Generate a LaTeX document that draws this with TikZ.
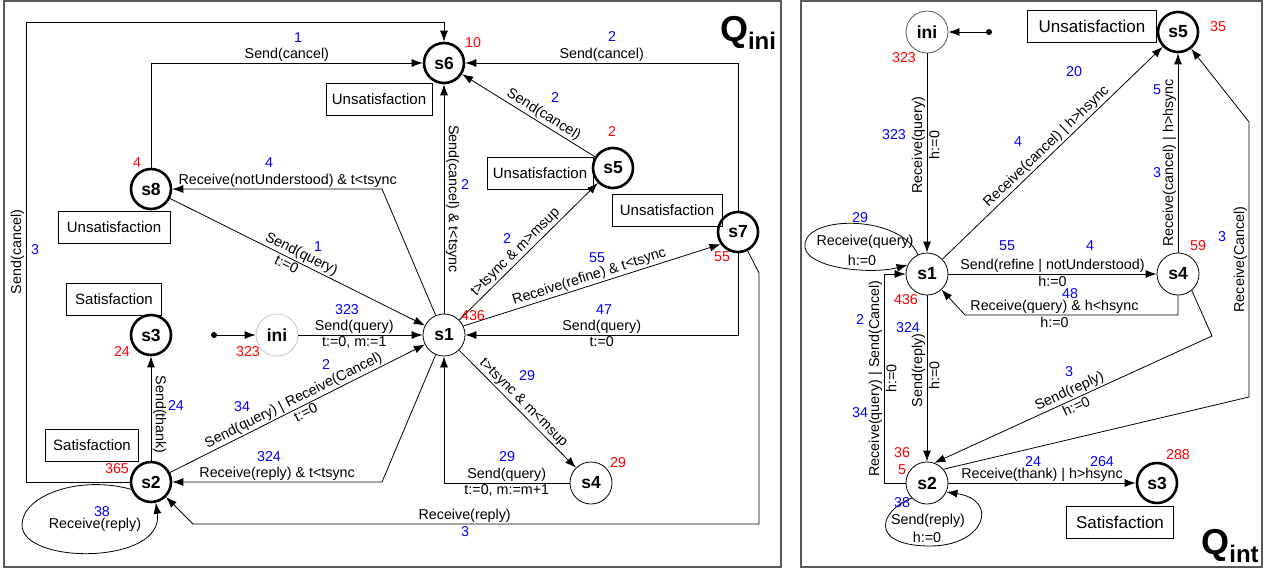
\documentclass[tikz,border=0pt]{standalone}
\usepackage{fontspec}
\setmainfont{Liberation Sans}
\usetikzlibrary{arrows.meta}
\tikzset{
    stnode/.style = {circle, draw=black, line width=0.8pt, minimum size=42pt, inner sep=0pt, font=\fontsize{17.5}{18}\selectfont\bfseries},
    stnodef/.style = {stnode, line width=2.6pt, minimum size=40pt},
    stnodeg/.style = {stnode, draw=gray!45},
    dotnode/.style = {circle, fill=black, minimum size=6pt, inner sep=0pt},
    msgbox/.style = {rectangle, draw=black, line width=0.8pt, minimum height=32pt, minimum width=106pt, inner sep=3pt, font=\fontsize{15}{16}\selectfont},
    msgboxb/.style = {msgbox, font=\fontsize{17}{18}\selectfont},
    cntb/.style = {text=blue, inner sep=0pt, font=\fontsize{14.3}{15}\selectfont},
    cntr/.style = {cntb, text=red},
    lbl/.style = {inner sep=1.5pt, font=\fontsize{14.3}{15}\selectfont},
    edgen/.style = {-{Latex[length=11pt,width=8pt]}, line width=0.8pt},
    frame/.style = {draw=gray!70!black, line width=1.6pt},
    qlabel/.style = {font=\fontsize{36}{36}\selectfont\bfseries, inner sep=0pt}
}
\begin{document}
\begin{tikzpicture}[x=1pt,y=-1pt]
\useasboundingbox (0,0) rectangle (1271,570);
%
\draw[frame] (4,1) rectangle (781,567);
\draw[frame] (801,1) rectangle (1262,567);
\node[qlabel] (qini) at (748,33) {Q\raisebox{-8pt}{\fontsize{24}{24}\selectfont ini}};
\node[qlabel] (qint) at (1230,546) {Q\raisebox{-8pt}{\fontsize{24}{24}\selectfont int}};
%
% Q_ini
\node[stnodef] (s6) at (444,63) {s6};
\node[stnodef] (s8) at (151,189) {s8};
\node[stnodef] (s5) at (613,168) {s5};
\node[stnodef] (s7) at (738,232) {s7};
\node[stnodef] (s3) at (151,335) {s3};
\node[stnodeg] (ini) at (277,335) {ini};
\node[stnode] (s1) at (444,335) {s1};
\node[stnodef] (s2) at (151,482) {s2};
\node[stnode] (s4) at (591,483) {s4};
\node[dotnode] (d0) at (214,335) {};
%
\node[msgbox] (u6) at (379,99) {Unsatisfaction};
\node[msgbox] (u5) at (540,173) {Unsatisfaction};
\node[msgbox, minimum width=110pt] (u7) at (667,210) {Unsatisfaction};
\node[msgbox, minimum width=112pt] (u8) at (114,227) {Unsatisfaction};
\node[msgbox, minimum width=95pt] (sa3) at (114,299) {Satisfaction};
\node[msgbox, minimum width=93pt] (sa2) at (92,445) {Satisfaction};
%
\coordinate (k0) at (26,22);
\coordinate (k1) at (382,189);
\coordinate (k2) at (382,482);
\coordinate (k3) at (759,273);
\coordinate (k4) at (759,524);
\coordinate (k5) at (193,524);
%
\draw[edgen] (s8) |- node[lbl, pos=0.75, above] {Send(cancel)} (s6);
\draw[edgen] (s2) -| node[lbl, pos=0.75, rotate=90, anchor=south] {Send(cancel)} (k0) -| (s6);
\draw[edgen] (s7) |- node[lbl, pos=0.75, above] {Send(cancel)} (s6);
\draw[edgen] (s5) -- node[lbl, pos=0.42, sloped, above] {Send(cancel)} (s6);
\draw[edgen] (s1) -- node[lbl, midway, rotate=-90, anchor=south] {Send(cancel) \& t<tsync} (s6);
\draw[edgen] (s1) -- (k1) -- node[lbl, pos=0.45, above] {Receive(notUnderstood) \& t<tsync} (s8);
\draw[edgen] (s8) -- node[lbl, pos=0.5, sloped, above] {Send(query)} node[lbl, pos=0.47, sloped, below] {t:=0} (s1);
\draw[edgen] (d0) -- (ini);
\draw[edgen] (ini) -- node[lbl, pos=0.45, above] {Send(query)} node[lbl, pos=0.45, below] {t:=0, m:=1} (s1);
\draw[edgen] (s2) -- node[lbl, midway, sloped, above] {Send(query) | Receive(Cancel)} node[lbl, pos=0.52, sloped, below] {t:=0} (s1);
\draw[edgen] (s1) -- (k2) -- node[lbl, midway, above] {Receive(reply) \& t<tsync} (s2);
\draw[edgen] (s2) -- node[lbl, pos=0.44, rotate=-90, anchor=south] {Send(thank)} (s3);
\draw[edgen] (s2.200) .. controls (80,475) and (22,495) .. (22,525) .. controls (22,565) and (165,565) .. (s2.283);
\node[lbl] (l1) at (95,525) {Receive(reply)};
\draw[edgen] (s1) -- node[lbl, pos=0.45, sloped, above] {t>tsync \& m>msup} (s5);
\draw[edgen] (s1.25) -- node[lbl, pos=0.5, sloped, above] {Receive(refine) \& t<tsync} (s7.215);
\draw[edgen] (s7) |- node[lbl, pos=0.75, above] {Send(query)} node[lbl, pos=0.75, below] {t:=0} (s1);
\draw[edgen] (s7) -- (k3) -- (k4) -- node[lbl, pos=0.52, above] {Receive(reply)} (k5) -- (s2);
\draw[edgen] (s1) -- node[lbl, pos=0.5, sloped, above] {t>tsync \& m<msup} (s4);
\draw[edgen] (s4) -| node[lbl, pos=0.25, above] {Send(query)} node[lbl, pos=0.25, below] {t:=0, m:=m+1} (s1);
%
\foreach \x/\y/\t [count=\i] in {298/38/1, 612/37/2, 35/250/3, 555/98/2, 465/185/2, 269/163/4, 318/247/1,
    347/310/323, 242/407/34, 326/365/2, 269/457/324, 176/406/24, 102/512/38, 507/239/2, 597/258/55,
    604/310/47, 465/532/3, 527/376/29, 507/457/29}
  \node[cntb] (b\i) at (\x,\y) {\t};
\foreach \x/\y/\t [count=\i] in {473/43/10, 612/132/2, 722/257/55, 137/163/4, 122/352/24, 248/352/323,
    473/316/436, 117/469/365, 618/463/29}
  \node[cntr] (r\i) at (\x,\y) {\t};
%
% Q_int
\node[stnode, draw=gray!70!black] (tini) at (927,32) {ini};
\node[dotnode] (td0) at (989,32) {};
\node[stnodef] (ts5) at (1178,32) {s5};
\node[stnode] (ts1) at (927,274) {s1};
\node[stnode] (ts4) at (1178,274) {s4};
\node[stnode] (ts2) at (927,483) {s2};
\node[stnodef] (ts3) at (1157,483) {s3};
\node[msgboxb, minimum width=129pt] (tu5) at (1092,26) {Unsatisfaction};
\node[msgboxb, minimum width=107pt] (tsa3) at (1120,522) {Satisfaction};
%
\coordinate (m1) at (884,274);
\coordinate (m2) at (1249,397);
\coordinate (m3) at (1249,122);
\coordinate (m4) at (965,315);
\coordinate (m5) at (1212,336);
%
\draw[edgen] (td0) -- (tini);
\draw[edgen] (tini) -- node[lbl, pos=0.46, rotate=90, anchor=south] {Receive(query)} node[lbl, pos=0.46, rotate=90, anchor=north] {h:=0} (ts1);
\draw[edgen] (ts1.115) .. controls (900,215) and (810,215) .. (805,243) .. controls (800,268) and (870,275) .. (ts1.155);
\node[lbl] (l2) at (865,242) {Receive(query)};
\node[lbl] (l3) at (862,260) {h:=0};
\draw[edgen] (ts2) -| node[lbl, pos=0.75, rotate=90, anchor=south] {Receive(query) | Send(Cancel)} node[lbl, pos=0.75, rotate=90, anchor=north] {h:=0} (m1) -- (ts1);
\draw[edgen] (ts1) -- node[lbl, pos=0.45, rotate=90, anchor=south] {Send(reply)} node[lbl, pos=0.48, rotate=90, anchor=north] {h:=0} (ts2);
\draw[edgen] (ts1) -- node[lbl, midway, sloped, above] {Receive(cancel) | h>hsync} (ts5);
\draw[edgen] (ts4) -- node[lbl, pos=0.45, rotate=90, anchor=south] {Receive(cancel) | h>hsync} (ts5);
\draw[edgen] (ts2.40) -- (m2) -- node[lbl, midway, rotate=90, anchor=south] {Receive(Cancel)} (m3) -- (ts5);
\draw[edgen] (ts1) -- node[lbl, midway, above] {Send(refine | notUnderstood)} node[lbl, midway, below] {h:=0} (ts4);
\draw[edgen] (ts4) |- node[lbl, pos=0.79, above] {Receive(query) \& h<hsync} node[lbl, pos=0.79, below] {h:=0} (m4) -- (ts1);
\draw[edgen] (ts4.-50) -- (m5) -- node[lbl, pos=0.5, sloped, above] {Send(reply)} node[lbl, pos=0.5, sloped, below] {h:=0} (ts2.70);
\draw[edgen] (ts2) -- node[lbl, midway, above] {Receive(thank) | h>hsync} (ts3);
\draw[edgen] (ts2.225) .. controls (880,510) and (868,545) .. (928,546) .. controls (985,547) and (1000,500) .. (ts2.335);
\node[lbl] (l4) at (928,521) {Send(reply)};
\node[lbl] (l5) at (927,537) {h:=0};
%
\foreach \x/\y/\t [count=\i] in {894/135/323, 860/218/29, 860/320/2, 860/413/34, 908/328/324, 1018/142/4,
    1074/72/20, 1157/90/5, 1157/173/3, 1222/237/3, 1007/246/55, 1090/246/4, 1070/294/48, 1069/372/3,
    1033/462/24, 1102/462/264, 902/503/38}
  \node[cntb] (tb\i) at (\x,\y) {\t};
\foreach \x/\y/\t [count=\i] in {904/58/323, 902/453/36, 902/470/5, 906/300/436, 1218/27/35, 1198/246/59,
    1178/455/288}
  \node[cntr] (tr\i) at (\x,\y) {\t};

\end{tikzpicture}
\end{document}
